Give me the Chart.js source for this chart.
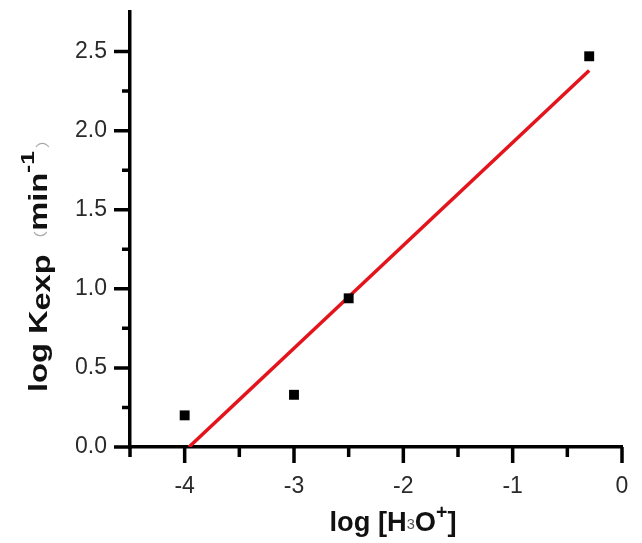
<!DOCTYPE html>
<html>
<head>
<meta charset="utf-8">
<script src="https://cdn.jsdelivr.net/npm/chart.js@4/dist/chart.umd.min.js"></script>
<style>
  body { margin: 0; background: #fff; }
  #wrap { width: 642px; height: 543px; }
</style>
</head>
<body>
<div id="wrap"><canvas id="chart" width="642" height="543"></canvas></div>
<script>
// DATA
const log_h3o = [-4, -3, -2.5, -0.3];
const log_kexp = [0.2, 0.33, 0.94, 2.47];
// fitted red line, end points
const fit_x = [-3.96, -0.3];
const fit_y = [0, 2.38];

const x_min = -4.5, x_max = 0;
const y_min = 0, y_max = 2.75;

const points = log_h3o.map((x, i) => ({ x: x, y: log_kexp[i] }));
const fit_line = fit_x.map((x, i) => ({ x: x, y: fit_y[i] }));

const FAMILY = "'Liberation Sans', Arial, sans-serif";

// draw text made of pieces (normal, sub, sup), stretched to a given length
function drawRich(ctx, parts, x, y, length) {
  let total = 0;
  parts.forEach((p) => {
    ctx.font = p.font;
    total += ctx.measureText(p.text).width + (p.gap || 0);
  });
  const sx = length / total;
  ctx.save();
  ctx.translate(x - length / 2, y);
  ctx.scale(sx, 1);
  let cx = 0;
  parts.forEach((p) => {
    ctx.font = p.font;
    ctx.fillStyle = p.color || "#111";
    ctx.fillText(p.text, cx, p.dy || 0);
    cx += ctx.measureText(p.text).width + (p.gap || 0);
  });
  ctx.restore();
}

// minor / major ticks and axis titles
const axisDecor = {
  id: "axisDecor",
  afterDraw(chart) {
    const ctx = chart.ctx;
    const xs = chart.scales.x, ys = chart.scales.y;
    const ca = chart.chartArea;
    ctx.save();
    ctx.strokeStyle = "#000";
    ctx.lineWidth = 3.5;
    ctx.beginPath();
    xs.ticks.forEach((t) => {
      const px = xs.getPixelForValue(t.value);
      const len = Math.abs(t.value % 1) < 1e-6 ? 16 : 10;
      ctx.moveTo(px, ca.bottom);
      ctx.lineTo(px, ca.bottom + len);
    });
    ys.ticks.forEach((t) => {
      if (t.value > 2.6) return;
      const py = ys.getPixelForValue(t.value);
      const len = Math.abs(t.value % 0.5) < 1e-6 ? 16 : 8;
      ctx.moveTo(ca.left, py);
      ctx.lineTo(ca.left - len, py);
    });
    ctx.stroke();

    ctx.textBaseline = "alphabetic";
    const B = "bold 28px " + FAMILY;

    // x title
    drawRich(ctx, [
      { text: "log [H", font: B },
      { text: "3", font: "15px " + FAMILY, color: "#555", dy: -2 },
      { text: "O", font: B },
      { text: "+", font: "bold 20px " + FAMILY, dy: -12 },
      { text: "]", font: B }
    ], 393, 531, 127);

    // y title, rotated
    ctx.translate(47, 261);
    ctx.rotate(-Math.PI / 2);
    const Y = "bold 25px " + FAMILY;
    drawRich(ctx, [
      { text: "log K", font: Y },
      { text: "exp", font: Y, dy: 3, gap: 4 },
      { text: "（", font: "14px 'Noto Sans CJK SC', sans-serif", color: "#aaa", dy: -2 },
      { text: "min", font: Y },
      { text: "-1", font: "bold 19px " + FAMILY, dy: -13, gap: 2 },
      { text: "）", font: "14px 'Noto Sans CJK SC', sans-serif", color: "#aaa", dy: 0 }
    ], 0, 0, 262);
    ctx.restore();
  }
};

const ctx = document.getElementById("chart").getContext("2d");
new Chart(ctx, {
  type: "scatter",
  data: {
    datasets: [
      {
        label: "fit",
        type: "line",
        data: fit_line,
        borderColor: "#e3141b",
        borderWidth: 3.5,
        pointRadius: 0,
        fill: false,
        order: 2
      },
      {
        label: "log Kexp",
        data: points,
        pointStyle: "rect",
        pointRadius: 7,
        backgroundColor: "#000",
        borderColor: "#000",
        borderWidth: 0,
        order: 1
      }
    ]
  },
  options: {
    responsive: false,
    animation: false,
    layout: { padding: { top: 12, right: 20, left: 0, bottom: 0 } },
    plugins: {
      legend: { display: false },
      tooltip: { enabled: false }
    },
    scales: {
      x: {
        type: "linear",
        min: x_min,
        max: x_max,
        afterFit: (s) => {
          s.height = 96;
          s.paddingLeft = 0;
          s.paddingRight = 0;
        },
        grid: { display: false, drawTicks: false },
        border: { display: true, color: "#000", width: 3.5 },
        ticks: {
          stepSize: 0.5,
          padding: 26,
          color: "#2a2a2a",
          font: { family: FAMILY, size: 23 },
          maxRotation: 0,
          autoSkip: false,
          callback: (v) => (Math.abs(v % 1) < 1e-6 ? String(v) : "")
        }
      },
      y: {
        type: "linear",
        min: y_min,
        max: y_max,
        afterFit: (s) => {
          s.width = 130;
          s.paddingTop = 0;
          s.paddingBottom = 0;
        },
        grid: { display: false, drawTicks: false },
        border: { display: true, color: "#000", width: 3.5 },
        ticks: {
          stepSize: 0.25,
          padding: 23,
          color: "#2a2a2a",
          font: { family: FAMILY, size: 23 },
          autoSkip: false,
          callback: (v) => (Math.abs(v % 0.5) < 1e-6 ? v.toFixed(1) : "")
        }
      }
    }
  },
  plugins: [axisDecor]
});
</script>
</body>
</html>
